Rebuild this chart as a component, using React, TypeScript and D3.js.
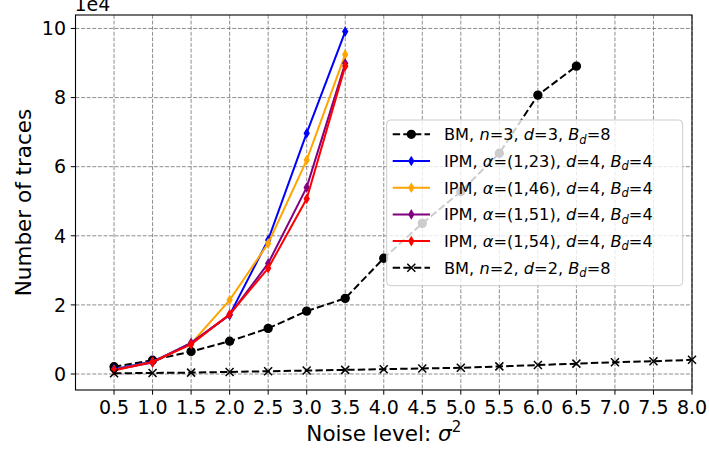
import React from "react";
import * as d3 from "d3";

const sigma = [0.5, 1.0, 1.5, 2.0, 2.5, 3.0, 3.5, 4.0, 4.5, 5.0, 5.5, 6.0, 6.5, 7.0, 7.5, 8.0];
const bm3 = [2100, 4000, 6500, 9500, 13200, 18200, 21900, 33500, 43600, 52800, 63900, 80700, 89100];
const ipm123 = [1400, 3600, 8900, 17100, 38800, 69700, 99100];
const ipm146 = [1200, 3400, 8800, 21400, 37800, 61900, 92500];
const ipm151 = [1200, 3300, 9000, 17100, 32000, 54000, 89900];
const ipm154 = [1000, 3500, 8600, 17300, 30600, 50700, 89100];
const bm2 = [200, 300, 400, 600, 800, 1000, 1200, 1400, 1600, 1800, 2200, 2600, 3000, 3400, 3700, 4100];
const yTicks = [0, 2, 4, 6, 8, 10];

type Seg = { t: string; i?: boolean; sub?: boolean };
const series: { name: string; color: string; marker: string; dashed: boolean; values: number[]; label: Seg[] }[] = [
  { name: "bm3", color: "#000000", marker: "o", dashed: true, values: bm3,
    label: [{ t: "BM, " }, { t: "n", i: true }, { t: "=3, " }, { t: "d", i: true }, { t: "=3, " }, { t: "B", i: true }, { t: "d", i: true, sub: true }, { t: "=8" }] },
  { name: "ipm123", color: "#0000ff", marker: "d", dashed: false, values: ipm123,
    label: [{ t: "IPM, " }, { t: "α", i: true }, { t: "=(1,23), " }, { t: "d", i: true }, { t: "=4, " }, { t: "B", i: true }, { t: "d", i: true, sub: true }, { t: "=4" }] },
  { name: "ipm146", color: "#ffa500", marker: "d", dashed: false, values: ipm146,
    label: [{ t: "IPM, " }, { t: "α", i: true }, { t: "=(1,46), " }, { t: "d", i: true }, { t: "=4, " }, { t: "B", i: true }, { t: "d", i: true, sub: true }, { t: "=4" }] },
  { name: "ipm151", color: "#800080", marker: "d", dashed: false, values: ipm151,
    label: [{ t: "IPM, " }, { t: "α", i: true }, { t: "=(1,51), " }, { t: "d", i: true }, { t: "=4, " }, { t: "B", i: true }, { t: "d", i: true, sub: true }, { t: "=4" }] },
  { name: "ipm154", color: "#ff0000", marker: "d", dashed: false, values: ipm154,
    label: [{ t: "IPM, " }, { t: "α", i: true }, { t: "=(1,54), " }, { t: "d", i: true }, { t: "=4, " }, { t: "B", i: true }, { t: "d", i: true, sub: true }, { t: "=4" }] },
  { name: "bm2", color: "#000000", marker: "x", dashed: true, values: bm2,
    label: [{ t: "BM, " }, { t: "n", i: true }, { t: "=2, " }, { t: "d", i: true }, { t: "=2, " }, { t: "B", i: true }, { t: "d", i: true, sub: true }, { t: "=8" }] },
];

const W = 709, H = 454;
const L = 75.5, R = 692, T = 15, B = 390;
const FONT = "DejaVu Sans";
const TICK_FS = 19;

function Marker({ type, x, y, color }: { type: string; x: number; y: number; color: string }) {
  if (type === "o") return <circle cx={x} cy={y} r={4} fill={color} stroke={color} strokeWidth={1.33} />;
  if (type === "d") {
    const h = 4, w = 2.4;
    return <path d={`M${x},${y - h}L${x + w},${y}L${x},${y + h}L${x - w},${y}Z`} fill={color} stroke={color} strokeWidth={1.33} />;
  }
  const s = 4;
  return <path d={`M${x - s},${y - s}L${x + s},${y + s}M${x - s},${y + s}L${x + s},${y - s}`} stroke={color} strokeWidth={1.5} fill="none" />;
}

export default function App() {
  const x = d3.scaleLinear().domain([0, 8]).range([L, R]);
  const y = d3.scaleLinear().domain([-4630, 103900]).range([B, T]);
  const line = d3.line<[number, number]>().x(d => x(d[0])).y(d => y(d[1]));

  const legX = 386.7, legY = 120, legW = 296, legH = 165.7;
  const rowY = (i: number) => 134.3 + i * 26.7;

  return (
    <svg width={W} height={H} style={{ position: "absolute", left: 0, top: 0, background: "#fff" }} fontFamily={FONT}>
      <rect x={0} y={0} width={W} height={H} fill="#fff" />
      {/* grid */}
      {sigma.map(v => (
        <line key={"gx" + v} x1={x(v)} x2={x(v)} y1={T} y2={B} stroke="#808080" strokeWidth={0.9} strokeDasharray="3.9,1.7" />
      ))}
      {yTicks.map(v => (
        <line key={"gy" + v} x1={L} x2={R} y1={y(v * 1e4)} y2={y(v * 1e4)} stroke="#808080" strokeWidth={0.9} strokeDasharray="3.9,1.7" />
      ))}
      {/* series */}
      <g>
        {series.map(s => {
          const pts = s.values.map((v, i) => [sigma[i], v] as [number, number]);
          return (
            <g key={s.name}>
              <path d={line(pts) || ""} fill="none" stroke={s.color} strokeWidth={2} strokeDasharray={s.dashed ? "7.4,3.2" : undefined} />
              {pts.map((p, i) => <Marker key={i} type={s.marker} x={x(p[0])} y={y(p[1])} color={s.color} />)}
            </g>
          );
        })}
      </g>
      {/* spines */}
      <rect x={L} y={T} width={R - L} height={B - T} fill="none" stroke="#000" strokeWidth={1.1} />
      {/* x ticks */}
      {sigma.map(v => (
        <g key={"tx" + v}>
          <line x1={x(v)} x2={x(v)} y1={B} y2={B + 4.7} stroke="#000" strokeWidth={1} />
          <text x={x(v)} y={413.8} textAnchor="middle" fontSize={TICK_FS} fill="#000">{v.toFixed(1)}</text>
        </g>
      ))}
      {/* y ticks */}
      {yTicks.map(v => (
        <g key={"ty" + v}>
          <line x1={L - 4.7} x2={L} y1={y(v * 1e4)} y2={y(v * 1e4)} stroke="#000" strokeWidth={1} />
          <text x={66} y={y(v * 1e4) + 6.8} textAnchor="end" fontSize={TICK_FS} fill="#000">{v}</text>
        </g>
      ))}
      <text x={L - 1} y={11} fontSize={TICK_FS} fill="#000">1e4</text>
      {/* axis labels */}
      <text x={(L + R) / 2} y={440.5} textAnchor="middle" fontSize={21.5} fill="#000">
        Noise level: <tspan fontStyle="italic">σ</tspan><tspan fontSize={15} dy={-8.5}>2</tspan>
      </text>
      <text transform={`translate(31,${(T + B) / 2}) rotate(-90)`} textAnchor="middle" fontSize={21.5} fill="#000">Number of traces</text>
      {/* legend */}
      <rect x={legX} y={legY} width={legW} height={legH} rx={4} ry={4} fill="#fff" fillOpacity={0.8} stroke="#cccccc" strokeWidth={1} />
      {series.map((s, i) => {
        const cy = rowY(i);
        return (
          <g key={"lg" + s.name}>
            <line x1={392.7} x2={430} y1={cy} y2={cy} stroke={s.color} strokeWidth={2} strokeDasharray={s.dashed ? "7.4,3.2" : undefined} />
            <Marker type={s.marker} x={411.3} y={cy} color={s.color} />
            <text x={444} y={cy + 5.8} fontSize={16.2} fill="#000">
              {s.label.map((seg, j) => (
                <tspan key={j} fontStyle={seg.i ? "italic" : "normal"} fontSize={seg.sub ? 11.5 : 16.2} dy={seg.sub ? 3.5 : (j > 0 && s.label[j - 1].sub ? -3.5 : 0)}>{seg.t}</tspan>
              ))}
            </text>
          </g>
        );
      })}
    </svg>
  );
}
